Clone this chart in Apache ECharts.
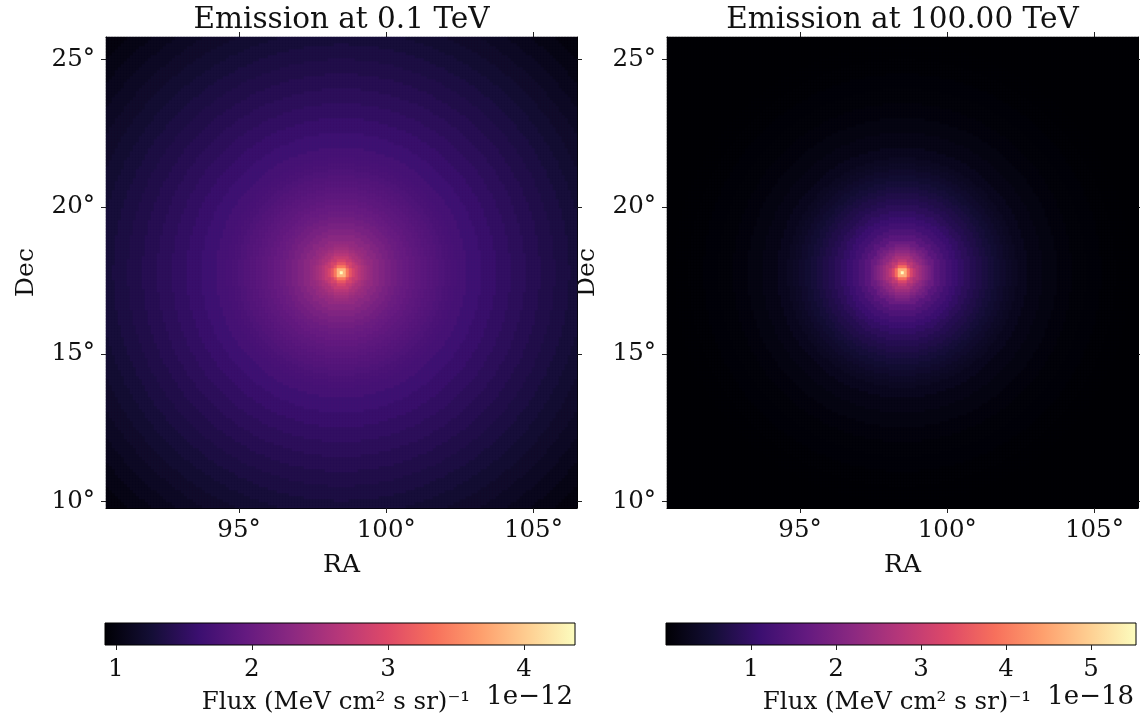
<!DOCTYPE html>
<html>
<head>
<meta charset="utf-8">
<title>Emission maps</title>
<script src="https://cdn.jsdelivr.net/npm/echarts@6/dist/echarts.min.js"></script>
<style>
  html, body { margin: 0; padding: 0; background: #fff; }
  #main { width: 1140px; height: 716px; }
</style>
</head>
<body>
<div id="main"></div>
<script>
// radial profile (distance from the source, deg)
const radiusDeg = [0, 0.1, 0.2, 0.3, 0.4, 0.5, 0.6, 0.7, 0.8, 0.9, 1.0,
  1.2, 1.4, 1.6, 1.8, 2.0, 2.2, 2.4, 2.6, 2.8, 3.0, 3.2, 3.4, 3.6, 3.8, 4.0,
  4.5, 5.0, 5.5, 6.0, 6.5, 7.0, 7.5, 8.0, 8.5, 9.0, 9.5, 10.0, 10.5, 11.0, 11.5, 12.0];
// 0.1 TeV, units of 1e-12
const fluxLow = [4.35, 3.85, 3.40, 3.10, 2.90, 2.76, 2.64, 2.55, 2.47, 2.41, 2.36,
  2.28, 2.20, 2.13, 2.07, 2.02, 1.98, 1.94, 1.90, 1.87, 1.84, 1.81, 1.78, 1.75, 1.72, 1.70,
  1.64, 1.58, 1.53, 1.48, 1.43, 1.38, 1.34, 1.29, 1.24, 1.19, 1.14, 1.09, 1.04, 0.99, 0.94, 0.92];
// 100 TeV, units of 1e-18
const fluxHigh = [5.50, 4.60, 3.80, 3.20, 2.85, 2.60, 2.40, 2.22, 2.06, 1.90, 1.74,
  1.53, 1.36, 1.22, 1.10, 0.99, 0.89, 0.80, 0.72, 0.65, 0.58, 0.51, 0.45, 0.39, 0.34, 0.29,
  0.20, 0.14, 0.09, 0.06, 0.04, 0.02, 0.01, 0.005, 0, 0, 0, 0, 0, 0, 0, 0];

const titles = ['Emission at 0.1 TeV', 'Emission at 100.00 TeV'];
const offsetTexts = ['1e\u221212', '1e\u221218'];
const raTicks = [95, 100, 105];
const decTicks = [10, 15, 20, 25];
const cbarTicks = [[1, 2, 3, 4], [1, 2, 3, 4, 5]];
const cbarRange = [[0.92, 4.375], [0, 5.53]];
const srcCenter = [98.48, 17.77];
const halfWidth = 8;
const nPix = 157;   // 3px per map pixel

const magma = ['#000004', '#140e36', '#3b0f70', '#641a80', '#8c2981', '#b73779',
  '#de4968', '#f7705c', '#fe9f6d', '#fecf92', '#fcfdbf'];

const FONT = 'DejaVu Serif';
const INK = '#111';

function nearestIdx(d) {
  let best = 0;
  for (let k = 1; k < radiusDeg.length; k++) {
    if (Math.abs(radiusDeg[k] - d) < Math.abs(radiusDeg[best] - d)) best = k;
  }
  return best;
}

// pixel grid from the radial profile
function buildCells(profile) {
  const cells = [];
  const step = 2 * halfWidth / nPix;
  const mid = (nPix - 1) / 2;
  for (let i = 0; i < nPix; i++) {
    for (let j = 0; j < nPix; j++) {
      const d = Math.hypot(i - mid, j - mid) * step;
      cells.push([i, j, profile[nearestIdx(d)]]);
    }
  }
  return cells;
}

const pixIdx = [];
for (let i = 0; i < nPix; i++) pixIdx.push(i);

const raMin = srcCenter[0] - halfWidth, raMax = srcCenter[0] + halfWidth;
const decMin = srcCenter[1] - halfWidth, decMax = srcCenter[1] + halfWidth;

const panelLeft = [106, 667];
const cbarLeft = [105, 666];
const SIDE = 3 * nPix;

const grid = [], xAxis = [], yAxis = [], series = [], visualMap = [], graphic = [];

const tickStyle = { show: true, length: 5, inside: false, lineStyle: { color: '#222', width: 1 } };
const lineStyle = { show: true, onZero: false, lineStyle: { color: '#000', width: 1 } };
const labelStyle = { color: INK, fontFamily: FONT, fontSize: 24.5 };
const nameStyle = { color: INK, fontFamily: FONT, fontSize: 25 };

[0, 1].forEach(function (p) {
  grid.push({ left: panelLeft[p], top: 37, width: SIDE, height: SIDE, outerBoundsMode: 'none', containLabel: false });

  xAxis.push({ gridIndex: p, type: 'category', data: pixIdx, show: false });
  xAxis.push({
    gridIndex: p, type: 'value', position: 'bottom', min: raMin, max: raMax,
    axisLine: lineStyle, splitLine: { show: false },
    axisTick: Object.assign({ customValues: raTicks }, tickStyle),
    axisLabel: Object.assign({ customValues: raTicks, margin: 10, formatter: v => v + '°' }, labelStyle),
    name: 'RA', nameLocation: 'middle', nameGap: 45, nameTextStyle: nameStyle
  });
  xAxis.push({
    gridIndex: p, type: 'value', position: 'top', min: raMin, max: raMax,
    axisLine: lineStyle, splitLine: { show: false },
    axisTick: Object.assign({ customValues: raTicks }, tickStyle),
    axisLabel: { show: false },
    name: titles[p], nameLocation: 'middle', nameGap: 2,
    nameTextStyle: { color: INK, fontFamily: FONT, fontSize: 29.5 }
  });

  yAxis.push({ gridIndex: p, type: 'category', data: pixIdx, show: false });
  yAxis.push({
    gridIndex: p, type: 'value', position: 'left', min: decMin, max: decMax,
    axisLine: lineStyle, splitLine: { show: false },
    axisTick: Object.assign({ customValues: decTicks }, tickStyle),
    axisLabel: Object.assign({ customValues: decTicks, margin: 11, formatter: v => v + '°' }, labelStyle),
    name: 'Dec', nameLocation: 'middle', nameGap: 67, nameTextStyle: nameStyle
  });
  yAxis.push({
    gridIndex: p, type: 'value', position: 'right', min: decMin, max: decMax,
    axisLine: lineStyle, splitLine: { show: false },
    axisTick: Object.assign({ customValues: decTicks }, tickStyle),
    axisLabel: { show: false }
  });

  series.push({
    type: 'heatmap', xAxisIndex: 3 * p, yAxisIndex: 3 * p,
    data: buildCells(p === 0 ? fluxLow : fluxHigh),
    progressive: 0, animation: false,
    itemStyle: { borderWidth: 0 },
    emphasis: { disabled: true }
  });

  visualMap.push({
    type: 'continuous', show: false, seriesIndex: p, dimension: 2,
    min: cbarRange[p][0], max: cbarRange[p][1],
    inRange: { color: magma }
  });
});

// colorbars
[0, 1].forEach(function (p) {
  const gi = 2 + p;
  grid.push({
    left: cbarLeft[p], top: 623, width: 470, height: 22, show: true,
    outerBoundsMode: 'none', containLabel: false,
    borderColor: '#000', borderWidth: 1,
    backgroundColor: {
      type: 'linear', x: 0, y: 0, x2: 1, y2: 0,
      colorStops: magma.map((c, k) => ({ offset: k / (magma.length - 1), color: c }))
    }
  });
  xAxis.push({
    gridIndex: gi, type: 'value', position: 'bottom', min: cbarRange[p][0], max: cbarRange[p][1],
    axisLine: { show: false }, splitLine: { show: false },
    axisTick: Object.assign({ customValues: cbarTicks[p] }, tickStyle),
    axisLabel: Object.assign({ customValues: cbarTicks[p], margin: 12 }, labelStyle),
    name: 'Flux (MeV cm\u00b2 s sr)\u207b\u00b9', nameLocation: 'middle', nameGap: 45,
    nameTextStyle: { color: INK, fontFamily: FONT, fontSize: 24.5, padding: [0, 8, 0, 0] }
  });
  yAxis.push({ gridIndex: gi, type: 'value', min: 0, max: 1, show: false });
  graphic.push({
    type: 'text', x: cbarLeft[p] + 468, y: 697,
    style: { text: offsetTexts[p], fill: INK, font: '26px "' + FONT + '"', align: 'right', verticalAlign: 'middle' }
  });
});

const chart = echarts.init(document.getElementById('main'), null, { renderer: 'canvas' });
chart.setOption({
  backgroundColor: '#fff',
  animation: false,
  grid: grid,
  xAxis: xAxis,
  yAxis: yAxis,
  visualMap: visualMap,
  series: series,
  graphic: graphic
});
</script>
</body>
</html>
